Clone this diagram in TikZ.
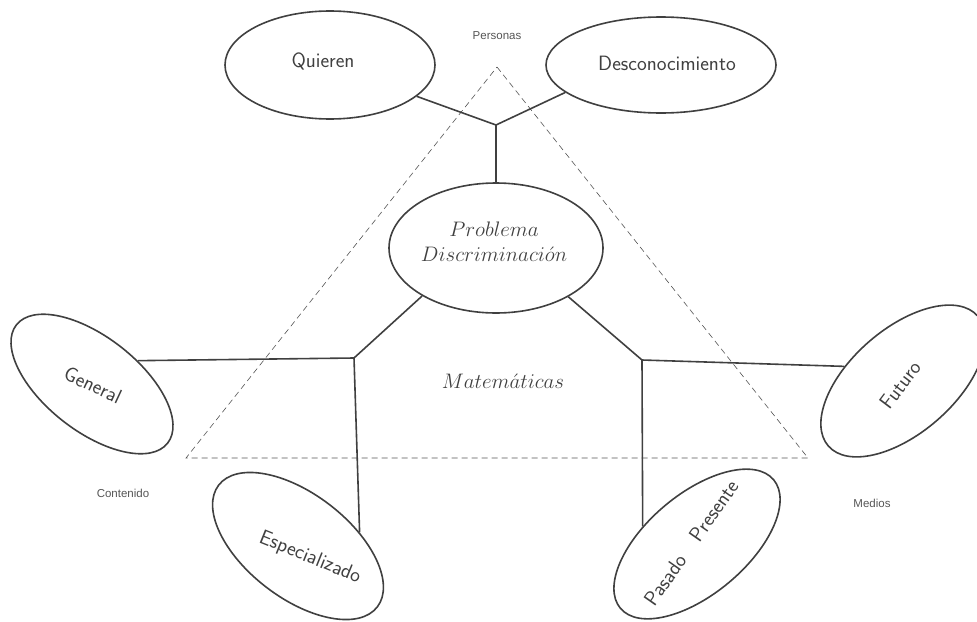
\RequirePackage{fix-cm}
\documentclass[tikz,border=0pt]{standalone}
\usepackage{fontspec}
\usepackage{graphicx}
\newfontfamily\tagfont{Liberation Sans}
\usetikzlibrary{shapes.geometric}
\definecolor{ink}{HTML}{404040}
\definecolor{tagink}{HTML}{555555}
\begin{document}
\begin{tikzpicture}[x=1pt,y=-1pt,
  bubble/.style={ellipse, draw=ink, line width=1.6pt, fill=white, inner sep=0pt},
  bubbletext/.style={text=ink, inner sep=0pt, font=\sffamily\fontsize{20.7}{25}\selectfont},
  mathtext/.style={text=ink, inner sep=0pt, align=center, font=\fontsize{21}{25.2}\selectfont},
  link/.style={draw=ink, line width=1.6pt},
  cornertag/.style={text=tagink, inner sep=0pt, font=\tagfont\fontsize{11.5}{14}\selectfont},
  tri/.style={draw=tagink, line width=0.6pt, dash pattern=on 6pt off 4pt}]
\useasboundingbox (0,0) rectangle (977,621);

% dashed triangle Personas / Contenido / Medios
\coordinate (ta) at (497,67);
\coordinate (tl) at (186,458);
\coordinate (tr) at (808,458);
\draw[tri] (ta) -- (tr) -- (tl) -- cycle;

% branching points
\coordinate (jt) at (496,125);
\coordinate (jl) at (354,358);
\coordinate (jr) at (642,360);

% ellipses
\node[bubble, minimum width=210pt, minimum height=108pt] (qu) at (330,65) {};
\node[bubble, minimum width=230pt, minimum height=96pt] (de) at (661,65) {};
\node[bubble, minimum width=214pt, minimum height=130pt] (pr) at (496,248) {};
\node[bubble, rotate=-38, minimum width=192pt, minimum height=94pt] (ge) at (92,384) {};
\node[bubble, rotate=-37.5, minimum width=200pt, minimum height=104pt] (es) at (298,546) {};
\node[bubble, rotate=40, minimum width=200pt, minimum height=100pt] (pa) at (697,544) {};
\node[bubble, rotate=41, minimum width=198pt, minimum height=104pt] (fu) at (903,381) {};

% connectors
\draw[link] (qu) -- (jt) -- (de.196);
\draw[link] (jt) -- (pr.north);
\draw[link] (pr.213.5) -- (jl) -- (ge.65);
\draw[link] (jl) -- (es.50);
\draw[link] (pr.326.5) -- (jr) -- (fu.125);
\draw[link] (jr) -- (pa.122);

% labels
\node[bubbletext] (quT) at (323,61) {Quieren};
\node[bubbletext] (deT) at (667,63) {Desconocimiento};
\node[mathtext] (prT) at (494,242) {$Problema$\\$Discriminaci\acute{o}n$};
\node[mathtext] (maT) at (503,381) {$Matem\acute{a}ticas$};
\node[bubbletext, rotate=-25] (geT) at (93,385) {General};
\node[bubbletext, rotate=-22] (esT) at (310,558) {Especializado};
\node[bubbletext, rotate=55] (paT) at (691,543) {Pasado\quad Presente};
\node[bubbletext, rotate=53] (fuT) at (900,385) {Futuro};

\node[cornertag] (pe) at (497,36) {Personas};
\node[cornertag] (co) at (123,493) {Contenido};
\node[cornertag] (me) at (872,503) {Medios};
\end{tikzpicture}
\end{document}
